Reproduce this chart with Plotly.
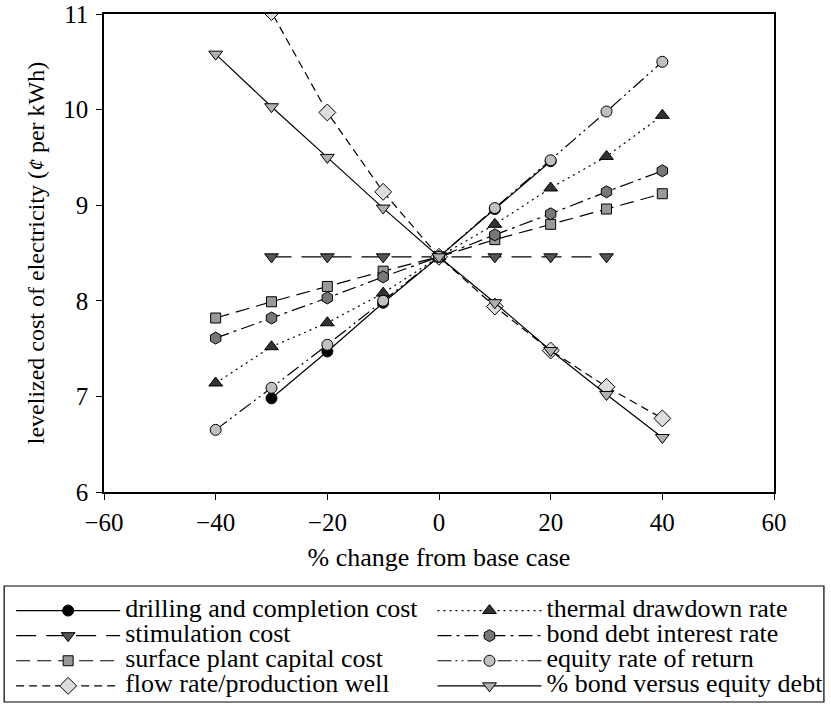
import plotly.graph_objects as go

x_full = [-40, -30, -20, -10, 0, 10, 20, 30, 40]
x_drill = [-30, -20, -10, 0, 10, 20]
x_stim = [-30, -20, -10, 0, 10, 20, 30]

drilling = [6.98, 7.47, 7.98, 8.46, 8.96, 9.46]
stimulation = [8.46, 8.46, 8.46, 8.46, 8.46, 8.46, 8.46]
surface = [7.82, 7.99, 8.15, 8.31, 8.46, 8.64, 8.80, 8.96, 9.12]
flow = [12.5, 11.02, 9.97, 9.14, 8.46, 7.94, 7.48, 7.10, 6.77]
thermal = [7.14, 7.52, 7.77, 8.08, 8.46, 8.80, 9.18, 9.51, 9.94]
bond = [7.61, 7.82, 8.03, 8.25, 8.46, 8.69, 8.91, 9.14, 9.36]
equity = [6.65, 7.09, 7.54, 8.00, 8.46, 8.97, 9.47, 9.98, 10.50]
pct_bond = [10.58, 10.03, 9.50, 8.97, 8.46, 7.98, 7.48, 7.02, 6.57]

names = ["drilling and completion cost", "stimulation cost", "surface plant capital cost",
         "flow rate/production well", "thermal drawdown rate", "bond debt interest rate",
         "equity rate of return", "% bond versus equity debt"]

x_ticks = [-60, -40, -20, 0, 20, 40, 60]
y_ticks = [6, 7, 8, 9, 10, 11]

series = [
    (x_drill, drilling, "solid", "circle", "#000000", 11, "legend"),
    (x_stim, stimulation, "20px,10px", "triangle-down", "#555555", 12, "legend"),
    (x_full, surface, "14px,7px", "square", "#999999", 10, "legend"),
    (x_full, flow, "8px,5px", "diamond", "#dddddd", 13, "legend"),
    (x_full, thermal, "2px,4px", "triangle-up", "#333333", 12, "legend2"),
    (x_full, bond, "14px,5px,3px,5px", "hexagon", "#777777", 12, "legend2"),
    (x_full, equity, "14px,4px,2px,4px,2px,4px", "circle", "#c0c0c0", 11, "legend2"),
    (x_full, pct_bond, "solid", "triangle-down", "#b0b0b0", 12, "legend2"),
]

font = "Liberation Serif"

fig = go.Figure()
for name, (xs, ys, dash, sym, col, size, lg) in zip(names, series):
    fig.add_trace(go.Scatter(
        x=xs, y=ys, name='<span style="font-size:26px">' + name + '</span>',
        mode="lines+markers",
        line=dict(color="#000000", width=1.2, dash=dash),
        marker=dict(symbol=sym, color=col, size=size, line=dict(color="#000000", width=1)),
        legend=lg,
    ))

leg_common = dict(orientation="v", yanchor="top", xanchor="left", itemwidth=104,
                  borderwidth=0, bgcolor="rgba(0,0,0,0)",
                  font=dict(family=font, size=17, color="#000000"), traceorder="normal")

fig.update_layout(
    width=831, height=704,
    margin=dict(l=104, r=57, t=14, b=212, autoexpand=False),
    paper_bgcolor="white", plot_bgcolor="white",
    font=dict(family=font, size=25, color="#000000"),
    xaxis=dict(range=[-60, 60], tickvals=x_ticks,
               showgrid=False, zeroline=False, showline=True, linecolor="#000000",
               linewidth=1.5, mirror=True, ticks="outside", ticklen=6, tickcolor="#000000",
               ticklabelstandoff=1,
               title=dict(text="% change from base case", standoff=13,
                          font=dict(family=font, size=26)),
               tickfont=dict(family=font, size=25)),
    yaxis=dict(range=[6, 11], tickvals=y_ticks,
               showgrid=False, zeroline=False, showline=True, linecolor="#000000",
               linewidth=1.5, mirror=True, ticks="outside", ticklen=6, tickcolor="#000000",
               ticklabelstandoff=3,
               title=dict(text="levelized cost of electricity (<i>¢</i> per kWh)", standoff=12,
                          font=dict(family=font, size=24)),
               tickfont=dict(family=font, size=25)),
    legend=dict(x=(11 - 104) / 671, y=(492 - 593) / 478, **leg_common),
    legend2=dict(x=(433 - 104) / 671, y=(492 - 593) / 478, **leg_common),
    shapes=[dict(type="rect", xref="paper", yref="paper",
                 x0=(4 - 104) / 671, x1=(825 - 104) / 671,
                 y0=(492 - 702) / 478, y1=(492 - 586) / 478,
                 line=dict(color="#000000", width=1.2), fillcolor="rgba(0,0,0,0)")],
    showlegend=True,
)

fig.write_html("out.html", config={"displayModeBar": False},
               post_script="document.body.style.margin='0px';")
